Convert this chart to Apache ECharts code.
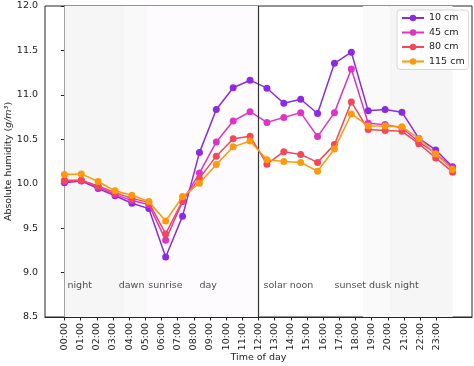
<!DOCTYPE html>
<html>
<head>
<meta charset="utf-8">
<script src="https://cdn.jsdelivr.net/npm/echarts@6/dist/echarts.min.js"></script>
<style>html,body{margin:0;padding:0;background:#fff;}#c{width:474px;height:366px;}</style>
</head>
<body>
<div id="c"></div>
<script>
const hours = ['00:00','01:00','02:00','03:00','04:00','05:00','06:00','07:00','08:00','09:00','10:00','11:00',
  '12:00','13:00','14:00','15:00','16:00','17:00','18:00','19:00','20:00','21:00','22:00','23:00'];
const d10  = [10.01, 10.03, 9.945, 9.865, 9.78, 9.72, 9.175, 9.635, 10.35, 10.835, 11.08, 11.165, 11.075, 10.905, 10.95, 10.79, 11.355, 11.48, 10.82, 10.835, 10.805, 10.51, 10.38, 10.19];
const d45  = [10.025, 10.035, 9.96, 9.88, 9.81, 9.765, 9.365, 9.80, 10.12, 10.47, 10.705, 10.81, 10.69, 10.745, 10.80, 10.53, 10.80, 11.29, 10.68, 10.665, 10.63, 10.47, 10.34, 10.18];
const d80  = [10.04, 10.04, 9.975, 9.90, 9.835, 9.79, 9.435, 9.81, 10.06, 10.31, 10.505, 10.535, 10.22, 10.36, 10.33, 10.24, 10.44, 10.92, 10.61, 10.60, 10.59, 10.45, 10.29, 10.13];
const d115 = [10.105, 10.11, 10.025, 9.92, 9.87, 9.80, 9.58, 9.855, 10.005, 10.215, 10.415, 10.48, 10.27, 10.25, 10.24, 10.14, 10.39, 10.785, 10.65, 10.65, 10.64, 10.51, 10.335, 10.16];
const seriesNames = ['10 cm', '45 cm', '80 cm', '115 cm'];
const phaseNames = ['night', 'dawn', 'sunrise', 'day', 'solar noon', 'sunset', 'dusk', 'night'];
const phaseX = [0.18, 3.22, 4.97, 8.0, 11.8, 16.0, 18.05, 19.55];
const phaseY = 8.85;
const bandStart = [0, 3.53, 4.9, 17.7, 19.27];
const bandEnd   = [3.53, 4.9, 11.5, 19.27, 23.0];
const noonX = 11.5;

const bandColors = ['#f6f6f7', '#f9f9fa', '#fdfbfd', '#fafafa', '#f6f6f7'];
const colors = ['#8a2be2', '#de33c4', '#f4475a', '#fd9a0c'];
const tickPos = hours.map((_, k) => k * 23 / 24);
const font = 'DejaVu Sans';
const allData = [d10, d45, d80, d115];

const chart = echarts.init(document.getElementById('c'));
const lineSeries = allData.map((arr, s) => ({
  name: seriesNames[s], type: 'line', z: 3 + s,
  data: arr.map((v, i) => [i, v]),
  symbol: 'circle', symbolSize: 7,
  lineStyle: {width: 1.5, color: colors[s]},
  itemStyle: {color: colors[s]},
  emphasis: {disabled: true}
}));

chart.setOption({
  animation: false,
  textStyle: {fontFamily: font},
  grid: {left: 45, right: 2, top: 6, bottom: 49, outerBoundsMode: 'none', containLabel: false,
    show: true, borderColor: '#262626', borderWidth: 1, backgroundColor: 'transparent'},
  legend: {
    data: seriesNames, orient: 'vertical', left: 397, top: 10,
    padding: [2, 4, 2, 4], itemGap: 2.5, itemWidth: 22, itemHeight: 8,
    borderColor: '#d6d6d6', borderWidth: 1, borderRadius: 3, backgroundColor: 'rgba(255,255,255,0.85)',
    textStyle: {fontFamily: font, fontSize: 9.5, color: '#222', lineHeight: 12}
  },
  xAxis: {
    type: 'value', min: -1.15, max: 24.15,
    name: 'Time of day', nameLocation: 'middle', nameGap: 36, nameMoveOverlap: false,
    nameTextStyle: {fontFamily: font, fontSize: 9.5, color: '#222'},
    axisLine: {show: true, lineStyle: {color: '#262626'}},
    axisTick: {show: true, length: 3.5, customValues: tickPos, lineStyle: {color: '#262626'}},
    axisLabel: {show: true, rotate: 90, margin: 6, fontSize: 9.5, color: '#222', customValues: tickPos,
      formatter: v => hours[Math.round(v * 24 / 23)] || ''},
    splitLine: {show: false}
  },
  yAxis: {
    type: 'value', min: 8.5, max: 12, interval: 0.5,
    name: '{n|Absolute humidity (}{i|g/m³}{n|)}', nameLocation: 'middle', nameGap: 31, nameMoveOverlap: false,
    nameTextStyle: {rich: {n: {fontFamily: font, fontSize: 9.5, color: '#222'}, i: {fontFamily: font, fontSize: 9.5, fontStyle: 'italic', color: '#222'}}},
    axisLine: {show: true, lineStyle: {color: '#262626'}},
    axisTick: {show: true, length: 3.5, lineStyle: {color: '#262626'}},
    axisLabel: {fontSize: 9.5, color: '#222', margin: 7, formatter: v => v.toFixed(1)},
    splitLine: {show: false}
  },
  series: [{
    type: 'scatter', z: 1, silent: true,
    data: phaseNames.map((n, i) => ({value: [phaseX[i], phaseY], name: n})),
    symbol: 'circle', symbolSize: 0.01, itemStyle: {color: 'rgba(0,0,0,0)'},
    label: {show: true, position: 'right', distance: 0, formatter: p => p.name, fontFamily: font, fontSize: 9.5, color: '#222'},
    markArea: {silent: true, data: bandStart.map((a, i) => [{xAxis: a, itemStyle: {color: bandColors[i]}}, {xAxis: bandEnd[i]}])},
    markLine: {silent: true, symbol: 'none', label: {show: false}, lineStyle: {color: '#333', type: 'solid', width: 1.2}, data: [{xAxis: noonX}]}
  }].concat(lineSeries)
});
</script>
</body>
</html>
